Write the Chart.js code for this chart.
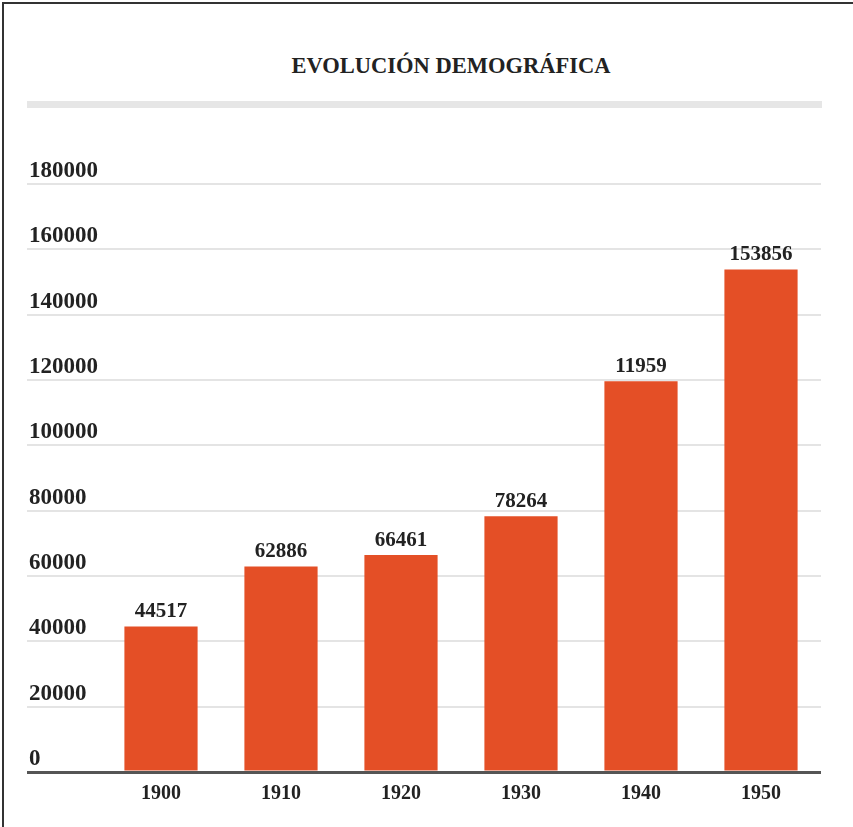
<!DOCTYPE html>
<html>
<head>
<meta charset="utf-8">
<script src="https://cdn.jsdelivr.net/npm/chart.js@4.4.1/dist/chart.umd.min.js"></script>
<style>
    html, body { margin: 0; padding: 0; background: #fff; overflow: hidden; }
    #wrap { position: relative; width: 853px; height: 827px; }
    #frame { position: absolute; left: 2px; top: 2px; width: 900px; height: 900px; border: 2px solid #333; pointer-events: none; }
    #title {
        position: absolute; left: 451px; top: 53px; transform: translateX(-50%);
        font: bold 22.5px "Liberation Serif", serif; line-height: 26px; color: #222; white-space: nowrap;
    }
    #band { position: absolute; left: 27px; top: 101px; width: 795px; height: 7px; background: #e6e6e6; }
    canvas { position: absolute; left: 0; top: 0; }
</style>
</head>
<body>
<div id="wrap">
    <div id="title">EVOLUCIÓN DEMOGRÁFICA</div>
    <div id="band"></div>
    <canvas id="chart-demografia" width="853" height="827"></canvas>
    <div id="frame"></div>
</div>
<script>
// Evolución demográfica 1900-1950
const years = ['1900', '1910', '1920', '1930', '1940', '1950'];
const population = [44517, 62886, 66461, 78264, 119590, 153856];
// labels as printed above each bar (1940 is printed as 11959 in the source)
const barLabels = ['44517', '62886', '66461', '78264', '11959', '153856'];
const yTicks = [0, 20000, 40000, 60000, 80000, 100000, 120000, 140000, 160000, 180000];

const BAR_COLOR = '#e44f26';
const TEXT_COLOR = '#222222';
const SERIF = '"Liberation Serif", "Times New Roman", serif';

const barValueLabels = {
    id: 'barValueLabels',
    afterDatasetsDraw(chart) {
        const ctx = chart.ctx;
        const meta = chart.getDatasetMeta(0);
        ctx.save();
        ctx.font = `bold 21px ${SERIF}`;
        ctx.fillStyle = TEXT_COLOR;
        ctx.textAlign = 'center';
        ctx.textBaseline = 'bottom';
        meta.data.forEach((bar, i) => {
            ctx.fillText(barLabels[i], bar.x, bar.y - 4);
        });
        ctx.restore();
    },
};

function createDemografiaChart() {
    try {
        const canvas = document.getElementById('chart-demografia');
        const ctx = canvas.getContext('2d');

        new Chart(ctx, {
            type: 'bar',
            data: {
                labels: years,
                datasets: [
                    {
                        label: 'Población',
                        data: population,
                        backgroundColor: BAR_COLOR,
                        borderWidth: 0,
                        barPercentage: 0.61,
                        categoryPercentage: 1,
                    },
                ],
            },
            options: {
                responsive: false,
                animation: false,
                layout: { padding: { top: 184, left: 29, right: 32, bottom: 11 } },
                scales: {
                    x: {
                        grid: { display: false, drawTicks: false },
                        border: { display: false },
                        ticks: { color: TEXT_COLOR, padding: 10, font: { family: SERIF, size: 20, weight: 'bold' } },
                    },
                    y: {
                        min: 0,
                        max: 180000,
                        afterBuildTicks: scale => { scale.ticks = yTicks.map(v => ({ value: v })); },
                        afterFit: scale => { scale.width = 72; },
                        border: { display: false },
                        grid: {
                            color: c => (c.tick && c.tick.value === 0 ? '#555555' : '#e4e4e4'),
                            lineWidth: c => (c.tick && c.tick.value === 0 ? 3 : 2),
                            drawTicks: true,
                            tickLength: 74,
                        },
                        ticks: {
                            color: TEXT_COLOR,
                            crossAlign: 'far',
                            padding: 0,
                            labelOffset: -13,
                            font: { family: SERIF, size: 23, weight: 'bold' },
                            callback: v => String(v),
                        },
                    },
                },
                plugins: {
                    legend: { display: false },
                    tooltip: { enabled: false },
                },
            },
            plugins: [barValueLabels],
        });
    } catch (err) {
        console.error('[DEMOGRAFIA-CHART] FAILED:', err);
    }
}

createDemografiaChart();
</script>
</body>
</html>
